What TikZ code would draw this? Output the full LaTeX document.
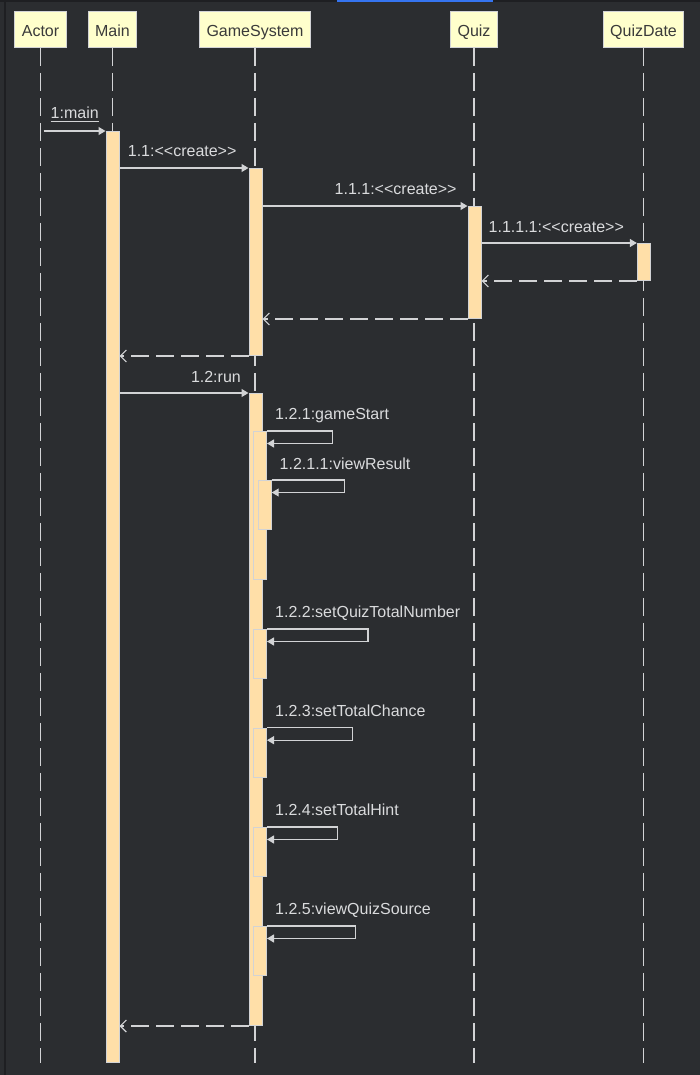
\documentclass[tikz,border=0pt]{standalone}
\usepackage{fontspec}
\setmainfont{Liberation Sans}[Ligatures=TeXOff]
\usetikzlibrary{arrows.meta}
\definecolor{bgc}{HTML}{2B2D30}
\definecolor{framec}{HTML}{1E1F22}
\definecolor{bluec}{HTML}{3574F0}
\definecolor{linec}{HTML}{D2D3D5}
\definecolor{labelc}{HTML}{DADBDD}
\definecolor{headfill}{HTML}{FFFFCC}
\definecolor{headtext}{HTML}{3A3A3A}
\definecolor{barfill}{HTML}{FFDFA8}

\begin{document}
\begin{tikzpicture}[x=1pt, y=-1pt, font=\fontsize{16}{19}\selectfont,
    objhead/.style={draw=linec, fill=headfill, text=headtext, minimum height=36pt, inner xsep=7pt, text height=14.6pt, text depth=0pt, line width=1pt},
    actbar/.style={draw=linec, fill=barfill, minimum width=13pt, inner sep=0pt, anchor=north, line width=1pt},
    life/.style={draw=linec, line width=1.2pt, dash pattern=on 18pt off 7pt},
    call/.style={draw=linec, line width=1.2pt, -{Triangle[length=7pt,width=8pt]}},
    ret/.style={draw=linec, line width=1.2pt, dash pattern=on 18pt off 7pt, -{Straight Barb[length=6pt,width=12pt]}},
    lbl/.style={text=labelc, inner sep=0pt, anchor=base west}]
    % background and frame
    \fill [bgc] (0, 0) rectangle (700, 1075);
    \fill [framec] (0, 0) rectangle (700, 2.5);
    \fill [framec] (3.5, 0) rectangle (5.5, 1075);
    \fill [bluec] (337, 0) rectangle (493, 2);
    % lifelines
    \node [objhead] (actor) at (40.5, 29.3) {Actor};
    \node [objhead] (main) at (112.5, 29.3) {Main};
    \node [objhead] (game) at (255, 29.3) {GameSystem};
    \node [objhead] (quiz) at (474, 29.3) {Quiz};
    \node [objhead] (date) at (643.5, 29.3) {QuizDate};
    \coordinate (bottom) at (0, 1063);
    \draw [life] (actor.south) -- (actor.south |- bottom);
    \draw [life] (main.south) -- (main.south |- bottom);
    \draw [life] (game.south) -- (game.south |- bottom);
    \draw [life] (quiz.south) -- (quiz.south |- bottom);
    \draw [life] (date.south) -- (date.south |- bottom);
    % activations
    \node [actbar, minimum height=931pt] (mainbar) at (112.5, 131) {};
    \node [actbar, minimum height=187pt] (gsbar) at (255.5, 168) {};
    \node [actbar, minimum height=112pt] (quizbar) at (474.5, 206) {};
    \node [actbar, minimum height=37pt] (datebar) at (643.8, 243) {};
    \node [actbar, minimum height=632pt] (runbar) at (255.5, 393) {};
    \node [actbar, minimum height=148pt] (startbar) at (260, 431) {};
    \node [actbar, minimum height=49pt] (resultbar) at (264.7, 480) {};
    \node [actbar, minimum height=49pt] (numbar) at (260, 629) {};
    \node [actbar, minimum height=49pt] (chancebar) at (260, 727.7) {};
    \node [actbar, minimum height=49pt] (hintbar) at (260, 827) {};
    \node [actbar, minimum height=49pt] (sourcebar) at (260, 926) {};
    % messages
    \draw [call] ([xshift=3pt]actor.south |- mainbar.north) -- (mainbar.north west);
    \node [lbl] (lmain) at (50.5, 119) {1:main};
    \draw [linec, line width=1pt] ([yshift=-2.7pt]lmain.base west) -- ([yshift=-2.7pt]lmain.base east);
    \draw [call] (mainbar.east |- gsbar.north) -- (gsbar.north west);
    \node [lbl] (lcreate) at (127.7, 157) {1.1:<<create>>};
    \draw [call] (gsbar.east |- quizbar.north) -- (quizbar.north west);
    \node [lbl] (lquiz) at (334.5, 195) {1.1.1:<<create>>};
    \draw [call] (quizbar.east |- datebar.north) -- (datebar.north west);
    \node [lbl] (ldate) at (488.5, 232.3) {1.1.1.1:<<create>>};
    \draw [ret] (datebar.south west) -- (quizbar.east |- datebar.south);
    \draw [ret] (quizbar.south west) -- (gsbar.east |- quizbar.south);
    \draw [ret] (gsbar.south west) -- (mainbar.east |- gsbar.south);
    \draw [call] (mainbar.east |- runbar.north) -- (runbar.north west);
    \node [lbl] (lrun) at (190.8, 382) {1.2:run};
    % self calls
    \draw [call] (startbar.north east) -- ++(65.3, 0) |- ([yshift=-12.5pt]startbar.north east);
    \node [lbl] (lstart) at (275, 419.5) {1.2.1:gameStart};
    \draw [call] (resultbar.north east) -- ++(73, 0) |- ([yshift=-12.5pt]resultbar.north east);
    \node [lbl] (lresult) at (279.5, 469) {1.2.1.1:viewResult};
    \draw [call] (numbar.north east) -- ++(101, 0) |- ([yshift=-12.5pt]numbar.north east);
    \node [lbl] (lnum) at (275, 617.5) {1.2.2:setQuizTotalNumber};
    \draw [call] (chancebar.north east) -- ++(85.3, 0) |- ([yshift=-12.5pt]chancebar.north east);
    \node [lbl] (lchance) at (275, 716.5) {1.2.3:setTotalChance};
    \draw [call] (hintbar.north east) -- ++(70.3, 0) |- ([yshift=-12.5pt]hintbar.north east);
    \node [lbl] (lhint) at (275, 815.5) {1.2.4:setTotalHint};
    \draw [call] (sourcebar.north east) -- ++(88.3, 0) |- ([yshift=-12.5pt]sourcebar.north east);
    \node [lbl] (lsource) at (275, 914.7) {1.2.5:viewQuizSource};
    \draw [ret] (runbar.south west) -- (mainbar.east |- runbar.south);
\end{tikzpicture}
\end{document}
